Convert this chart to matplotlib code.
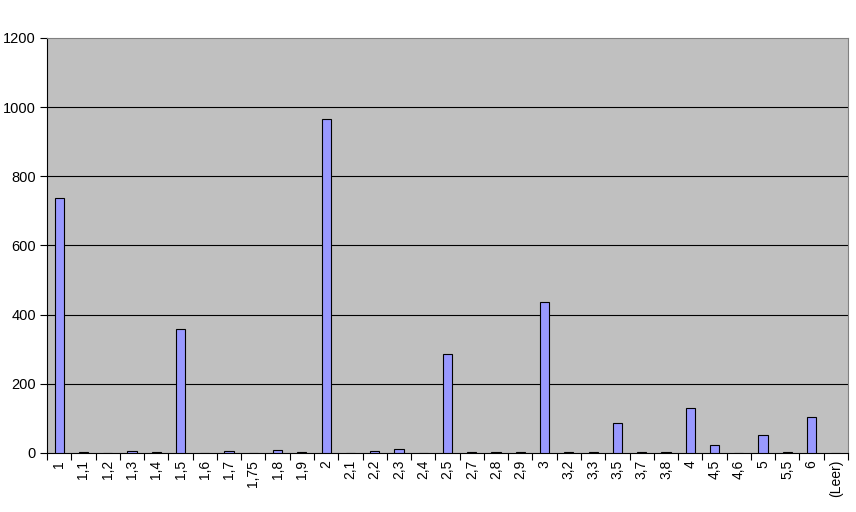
import matplotlib
matplotlib.use("Agg")
import matplotlib.pyplot as plt
import numpy as np

categories = ["1", "1,1", "1,2", "1,3", "1,4", "1,5", "1,6", "1,7", "1,75", "1,8", "1,9",
              "2", "2,1", "2,2", "2,3", "2,4", "2,5", "2,7", "2,8", "2,9", "3", "3,2", "3,3",
              "3,5", "3,7", "3,8", "4", "4,5", "4,6", "5", "5,5", "6", "(Leer)"]
values = [737, 2, 0, 5, 2, 358, 0, 5, 0, 8, 2,
          965, 0, 5, 11, 0, 286, 2, 2, 2, 436, 2, 2,
          87, 2, 2, 130, 23, 0, 52, 2, 104, 0]
yticks = [0, 200, 400, 600, 800, 1000, 1200]

plt.rcParams['font.family'] = ['Liberation Sans', 'DejaVu Sans']

fig = plt.figure(figsize=(8.56, 5.12), dpi=100)
ax = fig.add_axes([47/856, 1 - 453/512, (848 - 47)/856, (453 - 38)/512])
ax.set_facecolor('#C0C0C0')

x = np.arange(len(categories))
ax.bar(x, values, width=0.38, color='#9999FF', edgecolor='black', linewidth=0.8, zorder=3)

ax.set_xlim(-0.5, len(categories) - 0.5)
ax.set_ylim(0, 1200)
ax.set_yticks(yticks)
ax.set_yticklabels([str(v) for v in yticks], fontsize=10.5)
for v in yticks[1:-1]:
    ax.axhline(v, color='black', linewidth=0.8, zorder=1)

ax.set_xticks(x)
ax.set_xticklabels(categories, rotation=90, fontsize=10)
ax.set_xticks(np.arange(-0.5, len(categories), 1), minor=True)
ax.tick_params(axis='x', which='major', length=0, pad=5)
ax.tick_params(axis='x', which='minor', length=5, width=0.8, direction='out')
ax.tick_params(axis='y', length=5, width=0.8, direction='out', pad=3)

ax.spines['top'].set_color('#808080')
ax.spines['right'].set_color('#808080')
ax.spines['left'].set_color('black')
ax.spines['bottom'].set_color('black')
for s in ax.spines.values():
    s.set_linewidth(0.8)

fig.savefig('out.png', dpi=100)
